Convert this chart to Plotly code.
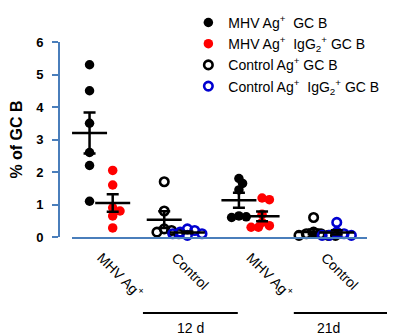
import plotly.graph_objects as go
import numpy as np

# ---------------- data ----------------
group_labels = ["MHV Ag<sup>+</sup>", "Control", "MHV Ag<sup>+</sup>", "Control"]
timepoints = ["12 d", "21d"]
series_names = [
    "MHV Ag<sup>+</sup>  GC B",
    "MHV Ag<sup>+</sup>  IgG<sub>2</sub><sup>+</sup> GC B",
    "Control Ag<sup>+</sup> GC B",
    "Control Ag<sup>+</sup>  IgG<sub>2</sub><sup>+</sup> GC B",
]

mhv_total_12d = [5.3, 4.5, 3.5, 2.6, 2.2, 1.1]
mhv_igg2_12d = [2.05, 1.6, 0.9, 0.8, 0.65, 0.28]
ctrl_total_12d = [1.7, 0.8, 0.25, 0.2, 0.15, 0.1]
ctrl_igg2_12d = [0.25, 0.2, 0.15, 0.1, 0.1, 0.05]
mhv_total_21d = [1.8, 1.65, 1.45, 0.65, 0.62, 0.6]
mhv_igg2_21d = [1.2, 1.15, 0.7, 0.45, 0.35, 0.3, 0.3]
ctrl_total_21d = [0.6, 0.15, 0.1, 0.1, 0.05, 0.05, 0.05]
ctrl_igg2_21d = [0.45, 0.15, 0.1, 0.05, 0.05, 0.05]

# series -> list of (group index, values)
series_data = [
    [(0, mhv_total_12d), (2, mhv_total_21d)],
    [(0, mhv_igg2_12d), (2, mhv_igg2_21d)],
    [(1, ctrl_total_12d), (3, ctrl_total_21d)],
    [(1, ctrl_igg2_12d), (3, ctrl_igg2_21d)],
]

# ---------------- style ----------------
# page body has an 8px margin, so the figure is 8px smaller than the window
W, H = 387, 327
ML, MR, MT, MB = 51, 28, 34, 98
AXIS = "#4a7ebb"
FONT = "Liberation Sans, Arial, sans-serif"
colors = ["black", "#ff0000", "black", "#0000d0"]
symbols = ["circle", "circle", "circle-open", "circle-open"]
side = [-1, 1, -1, 1]
OFF = 0.155
XR = [-0.39, 3.56]
YR = [0, 6]
plot_w = W - ML - MR
plot_h = H - MT - MB
x_dom0 = 13 / plot_w
px_per_x = plot_w * (1 - x_dom0) / (XR[1] - XR[0])
px_per_y = plot_h / (YR[1] - YR[0])
D = 9.5  # marker diameter in px


def swarm(vals):
    """simple beeswarm: horizontal offsets (data units) avoiding heavy overlaps."""
    order = np.argsort(vals)[::-1]
    placed = []
    offs = np.zeros(len(vals))
    step = D / 2.6
    cands = [0.0]
    for k in range(1, 10):
        cands += [k * step, -k * step]
    for i in order:
        y = vals[i] * px_per_y
        c = cands[-1]
        for cc in cands:
            if all(np.hypot(cc - px, y - py) >= D * 0.6 for px, py in placed):
                c = cc
                break
        placed.append((c, y))
        offs[i] = c / px_per_x
    return offs


fig = go.Figure()

for s in range(4):
    xs, ys = [], []
    mx, my, me = [], [], []
    for g, vals in series_data[s]:
        vals = np.array(vals, dtype=float)
        cx = g + side[s] * OFF
        xs += list(cx + swarm(vals))
        ys += list(vals)
        mx.append(cx)
        my.append(vals.mean())
        me.append(vals.std(ddof=1) / np.sqrt(len(vals)))
    fig.add_trace(go.Scatter(
        x=xs, y=ys, mode="markers", name=series_names[s], legendgroup=f"g{s}",
        marker=dict(symbol=symbols[s], color=colors[s],
                    size=9.5 if s < 2 else 8.5,
                    line=dict(width=0 if s < 2 else 2.6, color=colors[s])),
        cliponaxis=False,
    ))
    fig.add_trace(go.Scatter(
        x=mx, y=my, mode="markers", showlegend=False, hoverinfo="skip",
        marker=dict(symbol="line-ew-open", size=25, color="black",
                    line=dict(width=2.5, color="black")),
        error_y=dict(type="data", array=me, visible=True, color="black",
                     thickness=2.5, width=6),
        cliponaxis=False,
    ))


def xpaper(xd):
    return x_dom0 + (xd - XR[0]) / (XR[1] - XR[0]) * (1 - x_dom0)


brackets = [(0.56, 1.83), (2.58, 3.86)]
for (a, b), lab in zip(brackets, timepoints):
    fig.add_shape(type="line", xref="paper", yref="paper",
                  x0=xpaper(a), x1=xpaper(b), y0=-0.39, y1=-0.39,
                  line=dict(color="black", width=2))
    fig.add_annotation(text=lab, xref="paper", yref="paper",
                       x=(xpaper(a) + xpaper(b)) / 2, y=-0.415,
                       yanchor="top", showarrow=False,
                       font=dict(size=14, color="black", family=FONT))

fig.update_layout(
    width=W, height=H,
    margin=dict(l=ML, r=MR, t=MT, b=MB, autoexpand=False),
    plot_bgcolor="white", paper_bgcolor="white",
    font=dict(family=FONT, color="black", size=13),
    showlegend=True,
    legend=dict(x=0.42, y=1.18, xanchor="left", yanchor="top",
                font=dict(size=14, family=FONT), bgcolor="rgba(0,0,0,0)",
                tracegroupgap=0),
    xaxis=dict(range=XR, domain=[x_dom0, 1], showline=True, linecolor=AXIS,
               linewidth=2, showgrid=False, zeroline=False,
               tickvals=[0, 1, 2, 3], ticktext=group_labels, tickangle=45,
               ticks="", ticklabelstandoff=5,
               tickfont=dict(size=14, family=FONT)),
    yaxis=dict(range=YR, anchor="free", position=0, showline=True,
               linecolor=AXIS, linewidth=2, ticks="outside", ticklen=6,
               tickwidth=2, tickcolor=AXIS, dtick=1, showgrid=False,
               zeroline=False, ticklabelstandoff=6,
               tickfont=dict(size=13, family=FONT, weight="bold"),
               title=dict(text="% of GC B", standoff=10,
                          font=dict(size=16, family=FONT, weight="bold"))),
)

fig.write_html("out.html")
